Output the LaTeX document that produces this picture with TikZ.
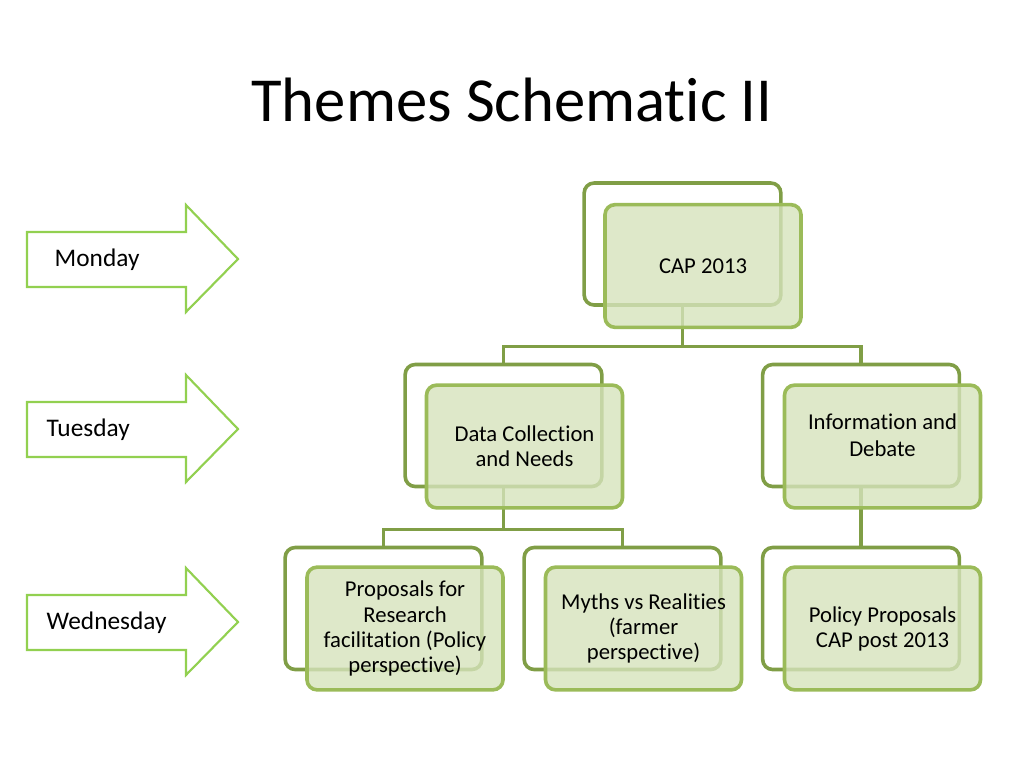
\documentclass[tikz,border=0pt]{standalone}
\usepackage{fontspec}
\setmainfont{Carlito}[RawFeature={-liga;-clig;-calt;-dlig}]
\definecolor{daygreen}{RGB}{146,208,80}
\definecolor{boxdark}{RGB}{128,158,70}
\definecolor{boxlight}{RGB}{155,187,89}
\definecolor{boxfill}{RGB}{214,227,188}
\begin{document}
\begin{tikzpicture}[x=0.75pt, y=-0.75pt,
    backbox/.style={draw=boxdark, line width=2.7pt, fill=white, rounded corners=7.5pt,
      minimum width=147.5pt, minimum height=91.5pt},
    frontbox/.style={draw=boxlight, line width=2.7pt, fill=boxfill, fill opacity=0.8,
      text opacity=1, rounded corners=7.5pt, minimum width=147pt, minimum height=92pt,
      align=center, font=\fontsize{17}{18.8}\selectfont},
    link/.style={draw=boxdark, line width=2.3pt},
    dayarrow/.style={draw=daygreen, line width=1.6pt, line join=miter},
    daylabel/.style={anchor=west, font=\fontsize{19}{22}\selectfont}]
    \useasboundingbox (0,0) rectangle (1024,768);

    \node[font=\fontsize{47}{56}\selectfont] (title) at (512,100) {Themes Schematic II};

    % days
    \draw[dayarrow] (27,232) -- (186,232) -- (186,205) -- (238,259) -- (186,312) -- (186,287) -- (27,287) -- cycle;
    \node[daylabel] (mon) at (50,260) {Monday};
    \draw[dayarrow] (27,402) -- (186,402) -- (186,375) -- (238,429) -- (186,482) -- (186,457) -- (27,457) -- cycle;
    \node[daylabel] (tue) at (42,430) {Tuesday};
    \draw[dayarrow] (27,595) -- (186,595) -- (186,568) -- (238,622) -- (186,675) -- (186,650) -- (27,650) -- cycle;
    \node[daylabel] (wed) at (42,623) {Wednesday};

    % back boxes
    \node[backbox] (capB) at (682.5,244) {};
    \node[backbox] (dataB) at (503.5,425.5) {};
    \node[backbox] (infoB) at (861,425.5) {};
    \node[backbox] (propB) at (383.5,608.5) {};
    \node[backbox] (mythB) at (622.5,608.5) {};
    \node[backbox] (polB) at (861,608.5) {};

    % links
    \draw[link] (capB.south) -- ++(0,40) -| (dataB.north);
    \draw[link] (capB.south) -- ++(0,40) -| (infoB.north);
    \draw[link] (dataB.south) -- ++(0,41) -| (propB.north);
    \draw[link] (dataB.south) -- ++(0,41) -| (mythB.north);
    \draw[link] (infoB.south) -- (polB.north);

    % front boxes
    \node[frontbox] (cap) at (703,266) {CAP 2013};
    \node[frontbox] (data) at (524.5,446.5) {Data Collection\\and Needs};
    \node[frontbox] (info) at (882.5,446.5) {};
    \node[align=center, font=\fontsize{17}{20}\selectfont] (infoT) at (882.5,435) {Information and\\Debate};
    \node[frontbox] (prop) at (405,628.5) {Proposals for\\Research\\facilitation (Policy\\perspective)};
    \node[frontbox] (myth) at (643.5,628.5) {Myths vs Realities\\(farmer\\perspective)};
    \node[frontbox] (pol) at (882.5,628.5) {Policy Proposals\\CAP post 2013};
\end{tikzpicture}
\end{document}
